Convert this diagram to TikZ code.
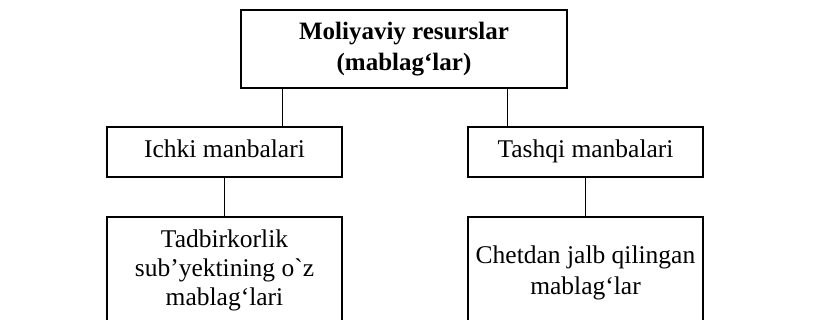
\documentclass[tikz,border=0pt]{standalone}
\usepackage{fontspec}
\setmainfont{Liberation Serif}[Ligatures=TeXOff]
\begin{document}
\begin{tikzpicture}[x=1pt,y=-1pt,
  box/.style={draw=black,line width=1.6pt,rectangle,inner sep=0pt,align=center,font=\fontsize{25.5}{29}\selectfont},
  midbox/.style={box,minimum width=235pt,minimum height=50pt,text height=18pt,text depth=6pt},
  link/.style={draw=black,line width=0.9pt}]
\useasboundingbox (0,0) rectangle (821,320);
\clip (0,0) rectangle (821,320);
\node[box,minimum width=326pt,minimum height=78pt,font=\fontsize{25}{31}\selectfont\bfseries] (top) at (404,49) {Moliyaviy resurslar\\(mablag‘lar)};
\node[midbox] (ichki) at (224.5,152) {Ichki manbalari};
\node[midbox] (tashqi) at (585.5,152) {Tashqi manbalari};
\node[box,minimum width=235pt,minimum height=108pt,anchor=north] (tadbir) at (224.5,216) {Tadbirkorlik\\sub’yektining o`z\\mablag‘lari};
\node[box,minimum width=235pt,minimum height=112pt,anchor=north,font=\fontsize{25.5}{31}\selectfont] (chet) at (585.5,216) {Chetdan jalb qilingan\\mablag‘lar};
\draw[link] ([xshift=42pt]top.south west) -- ([xshift=176pt]ichki.north west);
\draw[link] ([xshift=267pt]top.south west) -- ([xshift=40pt]tashqi.north west);
\draw[link] (ichki.south) -- (tadbir.north);
\draw[link] (tashqi.south) -- (chet.north);
\end{tikzpicture}
\end{document}
